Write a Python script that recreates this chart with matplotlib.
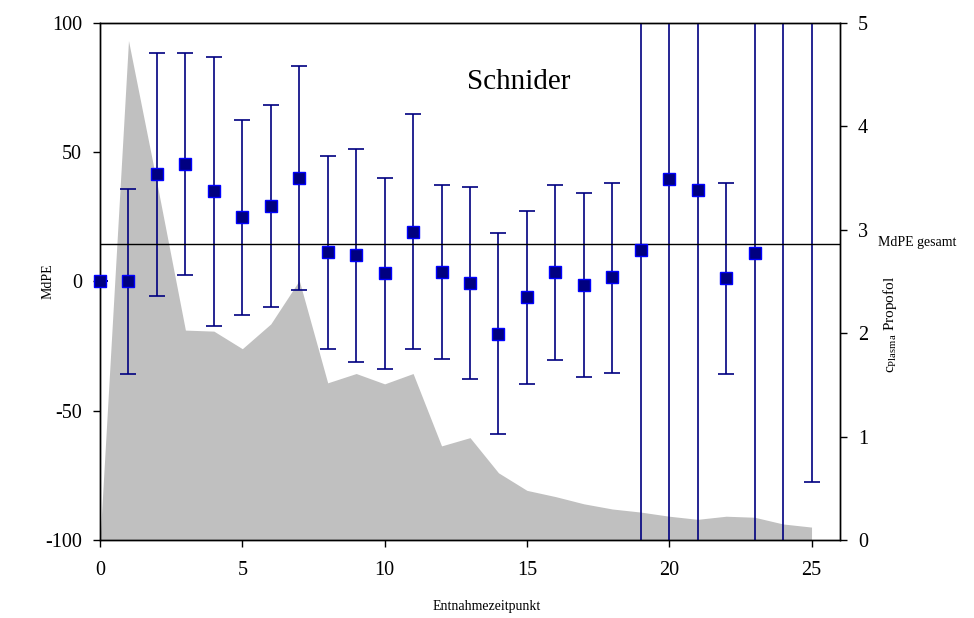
import matplotlib
matplotlib.use("Agg")
import matplotlib.pyplot as plt
import numpy as np

plt.rcParams['font.family'] = ['Liberation Serif', 'DejaVu Serif']
plt.rcParams['axes.unicode_minus'] = False

# Entnahmezeitpunkte
zeitpunkt = np.arange(26)

# MdPE je Zeitpunkt (Median) mit oberer / unterer Grenze
mdpe = [0, 0, 41.6, 45.5, 35, 25, 29.2, 40, 11.4, 10.3, 3.3, 19.1, 3.7, -0.6,
        -20.3, -6, 3.7, -1.4, 1.7, 12.2, 39.7, 35.4, 1.4, 11, 130, 120]
upper = [0, 35.8, 88.4, 88.4, 86.8, 62.5, 68.3, 83.3, 48.6, 51.3, 40, 64.8, 37.3, 36.6,
         18.8, 27.3, 37.3, 34.2, 38.1, 300, 300, 300, 38.1, 300, 300, 300]
lower = [0, -35.8, -5.6, 2.5, -17.2, -13, -9.9, -3.3, -26, -31, -33.8, -26, -30, -37.7,
         -59, -39.7, -30.4, -37, -35.4, -300, -300, -300, -35.8, -300, -300, -77.6]

# Plasmakonzentration Propofol
c_plasma = [0, 4.83, 3.45, 2.03, 2.02, 1.85, 2.09, 2.51, 1.52, 1.61, 1.51, 1.61, 0.91,
            0.99, 0.65, 0.48, 0.42, 0.35, 0.30, 0.27, 0.23, 0.20, 0.23, 0.22, 0.155, 0.125]

mdpe_gesamt = 14.5

fig = plt.figure(figsize=(9.74, 6.18), dpi=100)
ax = fig.add_axes([0.1027, 0.1262, 0.7597, 0.8366])
ax2 = ax.twinx()

# graue Fläche (rechte Achse) hinter den Fehlerbalken
ax2.fill_between(zeitpunkt, c_plasma, 0, color='#c0c0c0', linewidth=0)
ax2.set_ylim(0, 5)
ax2.set_yticks(range(6))
ax.set_zorder(ax2.get_zorder() + 1)
ax.patch.set_visible(False)

mdpe = np.array(mdpe)
yerr = [mdpe - np.array(lower), np.array(upper) - mdpe]
ax.errorbar(zeitpunkt, mdpe, yerr=yerr, fmt='none', ecolor='#000080',
            elinewidth=1.2, capsize=6, capthick=1.2)

ax.axhline(mdpe_gesamt, color='black', linewidth=1)

# Marker nur im sichtbaren Bereich, nicht am Rand abschneiden
sichtbar = np.abs(mdpe) <= 100
ax.plot(zeitpunkt[sichtbar], mdpe[sichtbar], 's', markerfacecolor='#000080',
        markeredgecolor='#0000ff', markersize=8.5, clip_on=False, zorder=3)

ax.set_xlim(0, 26)
ax.set_ylim(-100, 100)
ax.set_xticks([0, 5, 10, 15, 20, 25])
ax.set_yticks([-100, -50, 0, 50, 100])

for a in (ax, ax2):
    a.tick_params(labelsize=14.5, length=5, width=1, direction='out')
    a.tick_params(axis='y', pad=8)
    for s in a.spines.values():
        s.set_linewidth(1)
ax.tick_params(axis='x', pad=10)

ax.text(14.7, 77, 'Schnider', fontsize=21, ha='center', va='center')

fig.text(0.049, 0.545, 'MdPE', rotation=90, fontsize=10, ha='center', va='center')
fig.text(0.5, 0.018, 'Entnahmezeitpunkt', fontsize=10, ha='center', va='center')
fig.text(0.901, 0.608, 'MdPE gesamt', fontsize=10, ha='left', va='center')
fig.text(0.914, 0.475, r'c$_{\mathregular{Plasma}}$ Propofol', rotation=90, fontsize=11,
         ha='center', va='center')

fig.savefig('out.png', dpi=100)
